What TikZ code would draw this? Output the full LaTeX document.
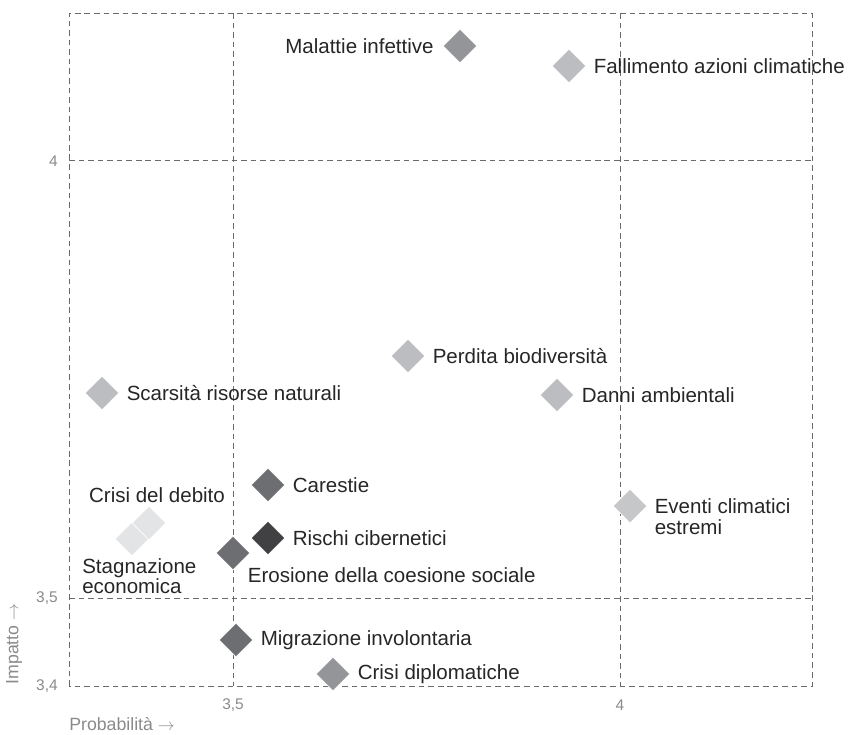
\documentclass[tikz,border=0pt]{standalone}
\usepackage{fontspec}
\setmainfont{Liberation Sans}
\usetikzlibrary{positioning,shapes.geometric}
\definecolor{riskA}{HTML}{BCBDC0}
\definecolor{riskB}{HTML}{939598}
\definecolor{riskC}{HTML}{6D6E71}
\definecolor{riskD}{HTML}{414042}
\definecolor{riskE}{HTML}{E3E4E5}
\definecolor{axisgray}{HTML}{8A8A8A}
\definecolor{gridgray}{HTML}{6A6A6A}
\tikzstyle{risk} = [diamond,draw=white,line width=0.4pt,inner sep=0pt,minimum size=0.85cm]
\tikzstyle{lbl} = [inner sep=0pt,align=left,text=black!85,font=\fontsize{14.6}{14.6}\selectfont]
\tikzstyle{gridline} = [gridgray,line width=0.6pt,dash pattern=on 4pt off 2.8pt]
\tikzstyle{tick} = [inner sep=0pt,text=axisgray,font=\fontsize{11}{13}\selectfont]
\tikzstyle{axislbl} = [inner sep=0pt,text=axisgray,font=\fontsize{12.6}{15}\selectfont]

\begin{document}
\begin{tikzpicture}[x=0.025cm,y=-0.025cm]
            \useasboundingbox (0,0) rectangle (855,735);
            % frame and grid
            \coordinate (SW) at (69,686);
            \coordinate (NE) at (812,13);
            \draw[gridline] (SW) rectangle (NE);
            \draw[gridline] (233,13) -- (233,686);
            \draw[gridline] (620,13) -- (620,686);
            \draw[gridline] (69,160) -- (812,160);
            \draw[gridline] (69,598) -- (812,598);

            % ticks
            \node[tick,anchor=east] (y4) at (58,161) {4};
            \node[tick,anchor=east] (y35) at (58,598) {3,5};
            \node[tick,anchor=east] (y34) at (58,686) {3,4};
            \node[tick] (x35) at (233,705) {3,5};
            \node[tick] (x4) at (620,705) {4};
            \node[axislbl,rotate=90] (impatto) at (14,644) {Impatto $\rightarrow$};
            \node[axislbl,anchor=west] (prob) at (69,724) {Probabilità $\rightarrow$};

            % risks
            \node[risk,fill=riskB] (malattie) at (460,46) {};
            \node[lbl,left=0.22cm of malattie] (malattieL) {Malattie infettive};
            \node[risk,fill=riskA] (fallimento) at (569,66) {};
            \node[lbl,right=0.18cm of fallimento] (fallimentoL) {Fallimento azioni climatiche};
            \node[risk,fill=riskA] (perdita) at (408,356) {};
            \node[lbl,right=0.18cm of perdita] (perditaL) {Perdita biodiversità};
            \node[risk,fill=riskA] (scarsita) at (102,393) {};
            \node[lbl,right=0.18cm of scarsita] (scarsitaL) {Scarsità risorse naturali};
            \node[risk,fill=riskA] (danni) at (557,395) {};
            \node[lbl,right=0.18cm of danni] (danniL) {Danni ambientali};
            \node[risk,fill=riskC] (carestie) at (268,485) {};
            \node[lbl,right=0.18cm of carestie] (carestieL) {Carestie};
            \node[risk,fill=riskA!85!white] (eventi) at (630,506) {};
            \node[lbl,right=0.18cm of eventi,yshift=-0.26cm] (eventiL) {Eventi climatici\\estremi};
            \node[risk,fill=riskE] (stagnazione) at (132,539) {};
            \node[risk,fill=riskE] (debito) at (149,523) {};
            \node[lbl,above=0.08cm of debito,xshift=0.2cm] (debitoL) {Crisi del debito};
            \node[lbl,anchor=north west] (stagnazioneL) at (82,558) {Stagnazione\\economica};
            \node[risk,fill=riskD] (rischi) at (268,538) {};
            \node[lbl,right=0.18cm of rischi] (rischiL) {Rischi cibernetici};
            \node[risk,fill=riskC] (erosione) at (233,553) {};
            \node[lbl,below right=0.13cm and 0.15cm of erosione] (erosioneL) {Erosione della coesione sociale};
            \node[risk,fill=riskC] (migrazione) at (236,640) {};
            \node[lbl,right=0.18cm of migrazione] (migrazioneL) {Migrazione involontaria};
            \node[risk,fill=riskB] (diplomatiche) at (333,674) {};
            \node[lbl,right=0.18cm of diplomatiche] (diplomaticheL) {Crisi diplomatiche};
        \end{tikzpicture}
\end{document}
